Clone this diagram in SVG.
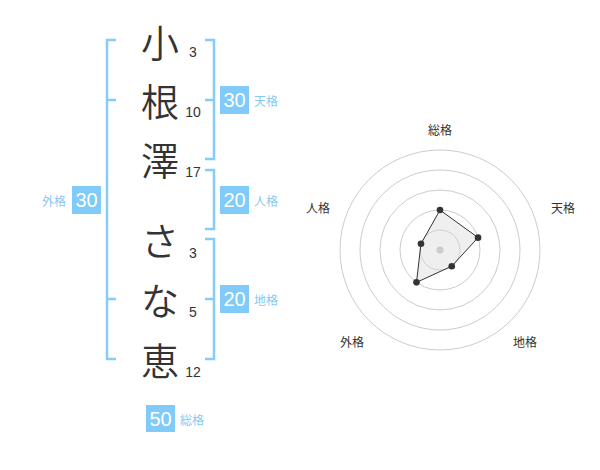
<svg xmlns="http://www.w3.org/2000/svg" width="600" height="470" viewBox="0 0 600 470">
<style>
.ch{font-family:"Noto Sans CJK JP",sans-serif;font-size:38px;font-weight:350;fill:#333;text-anchor:middle}
.st{font-family:"Liberation Sans","Noto Sans CJK JP",sans-serif;font-size:14px;fill:#333;text-anchor:middle}
.br{fill:none;stroke:#85cdf8;stroke-width:2.5}
.box{fill:#80cbf9}
.bn{font-family:"Liberation Sans",sans-serif;font-size:20px;fill:#fff;text-anchor:middle}
.lb{font-family:"Noto Sans CJK JP",sans-serif;font-size:12px;fill:#88c9f1}
.rl{font-family:"Noto Sans CJK JP",sans-serif;font-size:12px;fill:#333;text-anchor:middle}
.ring{fill:none;stroke:#ccc;stroke-width:1}
.dot{fill:#333}
</style>
<rect width="600" height="470" fill="#fff"/>
<g id="name">
<g id="c1"><text class="ch" x="160" y="57">小</text><text class="st" x="193" y="57">3</text></g>
<g id="c2"><text class="ch" x="160" y="116">根</text><text class="st" x="193" y="117">10</text></g>
<g id="c3"><text class="ch" x="160" y="175">澤</text><text class="st" x="193" y="177">17</text></g>
<g id="c4"><text class="ch" x="160" y="255">さ</text><text class="st" x="193" y="258">3</text></g>
<g id="c5"><text class="ch" x="160" y="315">な</text><text class="st" x="193" y="317">5</text></g>
<g id="c6"><text class="ch" x="160" y="375">恵</text><text class="st" x="193" y="377">12</text></g>
</g>
<g id="connectors">
<path class="br" d="M116 40H107V359H116M107 100H116M107 299H116"/>
<path class="br" d="M205 40H214V159H205M214 100H205"/>
<path class="br" d="M205 170H214V229H205"/>
<path class="br" d="M205 239H214V359H205M214 299H205"/>
</g>
<g id="tenkaku"><rect class="box" x="220" y="86" width="29" height="28"/><text class="bn" x="234.5" y="107">30</text><text class="lb" x="254" y="106">天格</text></g>
<g id="jinkaku"><rect class="box" x="220" y="186" width="29" height="28"/><text class="bn" x="234.5" y="207">20</text><text class="lb" x="254" y="206">人格</text></g>
<g id="chikaku"><rect class="box" x="220" y="285" width="29" height="28"/><text class="bn" x="234.5" y="306">20</text><text class="lb" x="254" y="305">地格</text></g>
<g id="gaikaku"><rect class="box" x="72" y="186" width="29" height="28"/><text class="bn" x="86.5" y="207">30</text><text class="lb" x="66" y="206" text-anchor="end">外格</text></g>
<g id="soukaku"><rect class="box" x="146" y="405" width="29" height="27"/><text class="bn" x="160.5" y="425.5">50</text><text class="lb" x="180" y="425">総格</text></g>
<g id="radar">
<circle class="ring" cx="440" cy="250" r="20"/>
<circle class="ring" cx="440" cy="250" r="40"/>
<circle class="ring" cx="440" cy="250" r="60"/>
<circle class="ring" cx="440" cy="250" r="80"/>
<circle class="ring" cx="440" cy="250" r="100"/>
<polygon points="440,210 478.04,237.64 451.76,266.18 416.49,282.36 420.98,243.82" fill="#d8d8d8" fill-opacity="0.4" stroke="#333" stroke-width="1"/>
<circle cx="440" cy="250" r="3.5" fill="#ccc"/>
<circle class="dot" cx="440" cy="210" r="3.3"/>
<circle class="dot" cx="478.04" cy="237.64" r="3.3"/>
<circle class="dot" cx="451.76" cy="266.18" r="3.3"/>
<circle class="dot" cx="416.49" cy="282.36" r="3.3"/>
<circle class="dot" cx="420.98" cy="243.82" r="3.3"/>
<text class="rl" x="440" y="135">総格</text>
<text class="rl" x="563" y="213">天格</text>
<text class="rl" x="525" y="347">地格</text>
<text class="rl" x="352" y="347">外格</text>
<text class="rl" x="318" y="213">人格</text>
</g>
</svg>
